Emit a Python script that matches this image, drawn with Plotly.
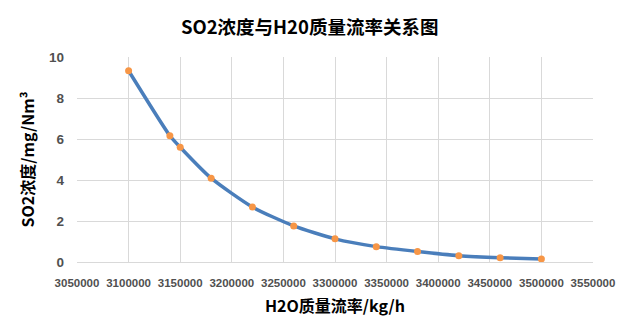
import plotly.graph_objects as go

h2o_flow = [3100000, 3140000, 3150000, 3180000, 3220000, 3260000, 3300000, 3340000, 3380000, 3420000, 3460000, 3500000]
so2_conc = [9.33, 6.16, 5.60, 4.09, 2.68, 1.76, 1.13, 0.75, 0.51, 0.31, 0.21, 0.15]

x_ticks = list(range(3050000, 3550001, 50000))
y_ticks = [0, 2, 4, 6, 8, 10]

title_text = "SO2浓度与H20质量流率关系图"
x_title = "H2O质量流率/kg/h"
y_title = "SO2浓度/mg/Nm³"

cjk = "Noto Sans CJK SC, Noto Sans, sans-serif"
xtickfont = dict(family="Liberation Sans, Arial, sans-serif", size=11.5, color="#505050")
ytickfont = dict(family="Liberation Sans, Arial, sans-serif", size=13.5, color="#505050")

fig = go.Figure()
fig.add_trace(go.Scatter(
    x=h2o_flow, y=so2_conc, mode="lines+markers",
    line=dict(color="#4a7ebb", width=3.5, shape="spline", smoothing=0.6),
    marker=dict(color="#f79646", size=7, line=dict(width=0)),
    showlegend=False,
))

fig.update_layout(
    width=632, height=322,
    margin=dict(l=77, r=39, t=57, b=60),
    paper_bgcolor="white", plot_bgcolor="white",
    title=dict(text="<b>" + title_text + "</b>", x=0.49, xanchor="center", y=0.915, yanchor="middle",
               font=dict(family=cjk, size=18.5, color="#000000")),
    xaxis=dict(
        range=[3050000, 3550000], tickmode="array", tickvals=x_ticks,
        ticktext=[f"<b>{v}</b>" for v in x_ticks], tickangle=0,
        tickfont=xtickfont, showgrid=True, gridcolor="#d9d9d9", gridwidth=1,
        showline=True, linecolor="#d9d9d9", linewidth=1, zeroline=False, ticks="",
        ticklabelstandoff=10, automargin=False,
        title=dict(text="<b>" + x_title + "</b>", font=dict(family=cjk, size=16, color="#000000"), standoff=13),
    ),
    yaxis=dict(
        range=[0, 10], tickmode="array", tickvals=y_ticks,
        ticktext=[f"<b>{v}</b>" for v in y_ticks],
        tickfont=ytickfont, showgrid=True, gridcolor="#d9d9d9", gridwidth=1,
        showline=False, zeroline=False, ticks="", ticklabelstandoff=12, automargin=False,
        title=dict(text="<b>" + y_title + "</b>", font=dict(family=cjk, size=16, color="#000000"), standoff=10),
    ),
)

fig.write_html("out.html")
